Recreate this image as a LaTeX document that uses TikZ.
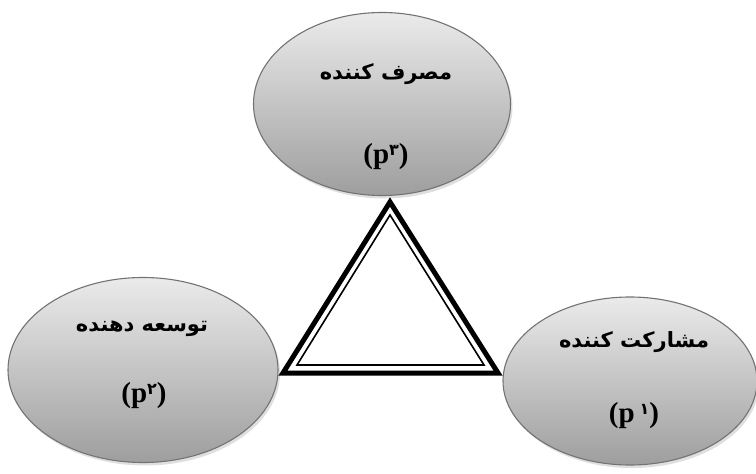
\documentclass[tikz,border=0pt]{standalone}
\usepackage{fontspec}
\setmainfont{Liberation Serif}
\newfontfamily\arabicfont[Script=Arabic]{DejaVu Sans}
\TeXXeTstate=1
\usetikzlibrary{shapes.geometric,shadows}
\newcommand{\pdigit}[1]{\raisebox{0.28em}{\arabicfont\bfseries\fontsize{16}{18}\selectfont #1}}
\begin{document}
\begin{tikzpicture}[x=1pt,y=-1pt,
  ell/.style={ellipse, draw=black!55, line width=1.1pt, top color=black!8, bottom color=black!38,
    drop shadow={shadow xshift=2pt, shadow yshift=-3pt, fill=black!25}, inner sep=0pt},
  fatxt/.style={font=\arabicfont\bfseries\fontsize{21}{24}\selectfont},
  ptxt/.style={font=\bfseries\fontsize{29}{32}\selectfont},
  outertri/.style={line width=5pt, line join=miter, black},
  innertri/.style={line width=1.6pt, line join=miter, black}]
\useasboundingbox (0,0) rectangle (756,474);
% ellipses
\node[ell, minimum width=257pt, minimum height=183pt] (cons) at (382,104) {};
\node[ell, minimum width=270pt, minimum height=185pt] (dev) at (143,370) {};
\node[ell, minimum width=254pt, minimum height=168pt] (part) at (630,381) {};
% texts
\node[fatxt] (consT) at (386,74) {\beginR مصرف کننده\endR};
\node[ptxt] (consP) at (386,157) {(p\pdigit{۳})};
\node[fatxt] (devT) at (142,329) {\beginR توسعه دهنده\endR};
\node[ptxt] (devP) at (144,396) {(p\pdigit{۲})};
\node[fatxt] (partT) at (634,342) {\beginR مشارکت کننده\endR};
\node[ptxt] (partP) at (634,416) {(p\,\pdigit{۱})};
% triangle
\coordinate (A) at (390,202);
\coordinate (B) at (283,373);
\coordinate (C) at (498,373);
\coordinate (a) at (390,215);
\coordinate (b) at (297,365);
\coordinate (c) at (484,365);
\draw[outertri] (A) -- (B) -- (C) -- cycle;
\draw[innertri] (a) -- (b) -- (c) -- cycle;
\end{tikzpicture}
\end{document}
